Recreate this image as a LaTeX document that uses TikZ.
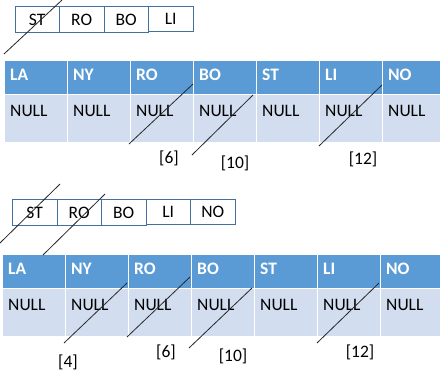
\documentclass[tikz,border=0pt]{standalone}
\usepackage{fontspec}
\setmainfont{Carlito}
\usetikzlibrary{calc}
\definecolor{hdrblue}{HTML}{5B9BD5}
\definecolor{bodyblue}{HTML}{D2DEEF}
\definecolor{keyline}{HTML}{41719C}
\tikzset{
  txt/.style={font=\fontsize{17.5}{20}\selectfont, inner sep=0pt},
  hcell/.style={fill=hdrblue, draw=white, line width=1.2pt, anchor=north west,
                minimum width=63pt, minimum height=34pt, inner sep=0pt},
  bcell/.style={fill=bodyblue, draw=white, line width=1.2pt, anchor=north west,
                minimum width=63pt, minimum height=48pt, inner sep=0pt},
  htext/.style={txt, font=\fontsize{17.5}{20}\selectfont\bfseries, text=white, anchor=base west},
  btext/.style={txt, text=black, anchor=base west},
  keybox/.style={txt, draw=keyline, line width=0.9pt, fill=white, anchor=north west,
                 minimum width=44.5pt, minimum height=26pt},
  shortbox/.style={keybox, minimum height=24.5pt},
  strike/.style={draw=black!85, line width=0.8pt},
  idx/.style={txt, anchor=center},
}
\begin{document}
\begin{tikzpicture}[x=1pt, y=-1pt]
\clip (0,0) rectangle (440,376);
\fill[white] (0,0) rectangle (440,376);

% ---------- first state ----------
\node[keybox]   (k1a) at (14.5,6) {ST};
\node[keybox]   (k1b) at (59,6)   {RO};
\node[keybox]   (k1c) at (103.5,6){BO};
\node[shortbox] (k1d) at (148,6)  {LI};

\foreach \name [count=\i] in {LA,NY,RO,BO,ST,LI,NO}{
  \node[hcell] (h1-\i) at ({4+63*(\i-1)},60) {};
  \node[bcell] (b1-\i) at ({4+63*(\i-1)},94) {};
  \node[htext] (th1-\i) at ($(h1-\i.north west)+(6,20.5)$) {\name};
  \node[btext] (tb1-\i) at ($(b1-\i.north west)+(6,22.5)$) {NULL};
}

\coordinate (s1a) at (4,54);    \coordinate (e1a) at (62,0);
\coordinate (s1b) at (129,144); \coordinate (e1b) at (193,84);
\coordinate (s1c) at (192,155); \coordinate (e1c) at (253,95);
\coordinate (s1d) at (319,146); \coordinate (e1d) at (382,85);
\draw[strike] (s1a) -- (e1a);
\draw[strike] (s1b) -- (e1b);
\draw[strike] (s1c) -- (e1c);
\draw[strike] (s1d) -- (e1d);

\node[idx] (i1a) at (169,158) {[6]};
\node[idx] (i1b) at (235,163) {[10]};
\node[idx] (i1c) at (363,159) {[12]};

% ---------- second state ----------
\node[keybox]   (k2a) at (12,199)   {ST};
\node[keybox]   (k2b) at (56.5,199) {RO};
\node[keybox]   (k2c) at (101,199)  {BO};
\node[shortbox] (k2d) at (145.5,199){LI};
\node[shortbox] (k2e) at (190,199)  {NO};

\foreach \name [count=\i] in {LA,NY,RO,BO,ST,LI,NO}{
  \node[hcell] (h2-\i) at ({2+63*(\i-1)},254) {};
  \node[bcell] (b2-\i) at ({2+63*(\i-1)},288) {};
  \node[htext] (th2-\i) at ($(h2-\i.north west)+(6,20.5)$) {\name};
  \node[btext] (tb2-\i) at ($(b2-\i.north west)+(6,22.5)$) {NULL};
}

\coordinate (s2a) at (0,243);   \coordinate (e2a) at (60,184);
\coordinate (s2b) at (43,255);  \coordinate (e2b) at (105,194);
\coordinate (s2c) at (64,343);  \coordinate (e2c) at (127,283);
\coordinate (s2d) at (127,337); \coordinate (e2d) at (190,277);
\coordinate (s2e) at (189,348); \coordinate (e2e) at (252,288);
\coordinate (s2f) at (317,343); \coordinate (e2f) at (379,283);
\draw[strike] (s2a) -- (e2a);
\draw[strike] (s2b) -- (e2b);
\draw[strike] (s2c) -- (e2c);
\draw[strike] (s2d) -- (e2d);
\draw[strike] (s2e) -- (e2e);
\draw[strike] (s2f) -- (e2f);

\node[idx] (i2a) at (68,362)  {[4]};
\node[idx] (i2b) at (166,352) {[6]};
\node[idx] (i2c) at (233,356) {[10]};
\node[idx] (i2d) at (360,352) {[12]};
\end{tikzpicture}
\end{document}
